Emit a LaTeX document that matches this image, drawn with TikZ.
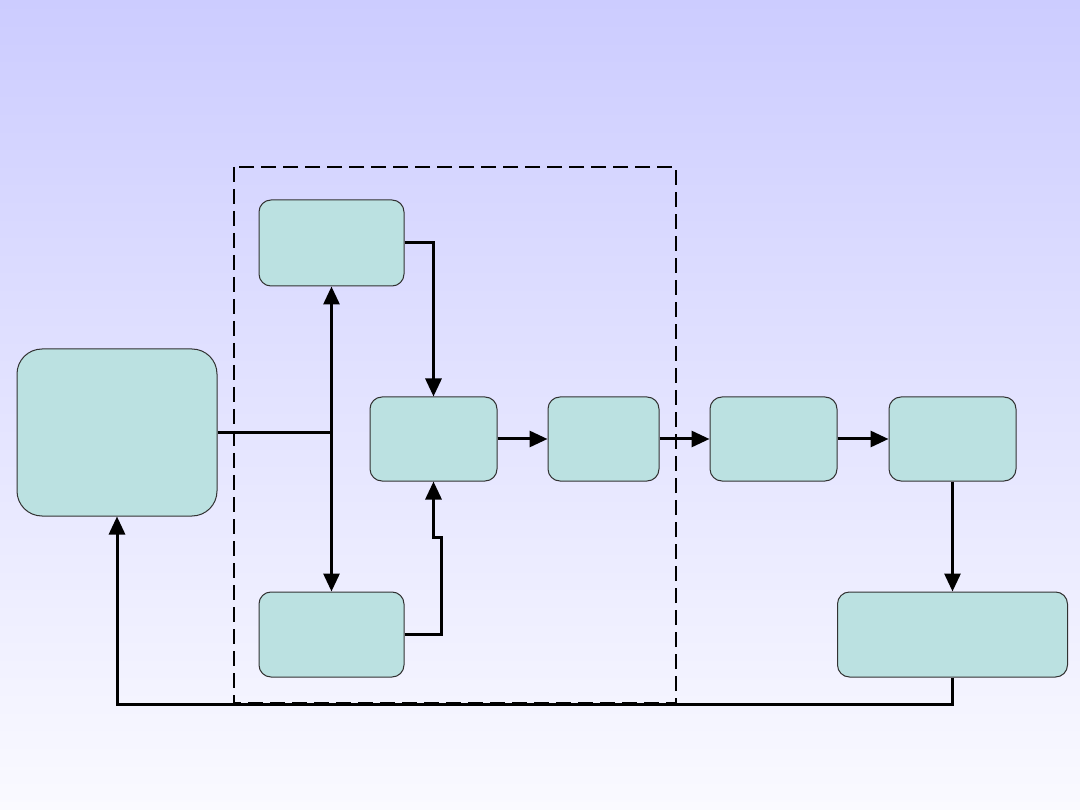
\documentclass[tikz,border=0pt]{standalone}
\usetikzlibrary{arrows.meta}
\definecolor{boxfill}{RGB}{187,225,225}
\definecolor{boxline}{RGB}{50,50,50}
\definecolor{bgtop}{RGB}{204,204,255}
\definecolor{bgbot}{RGB}{250,250,255}
\tikzset{
  box/.style={draw=boxline, line width=1pt, fill=boxfill, rounded corners=12pt, inner sep=0pt},
  conn/.style={line width=3pt, black},
  arr/.style={conn, -{Triangle[length=18pt,width=16pt]}},
  frame/.style={line width=2pt, dash pattern=on 15pt off 7pt}
}
\begin{document}
\begin{tikzpicture}[x=1pt,y=-1pt]
\useasboundingbox (0,0) rectangle (1080,810);
\shade[top color=bgtop, bottom color=bgbot] (0,0) rectangle (1080,810);

\draw[frame] (234,167) rectangle (676,703);

\node[box, rounded corners=25pt, minimum width=200pt, minimum height=167pt] (L) at (117,432.5) {};
\node[box, minimum width=145pt, minimum height=86pt] (T) at (331.5,243) {};
\node[box, minimum width=127pt, minimum height=84pt] (M) at (433.5,439) {};
\node[box, minimum width=111pt, minimum height=84pt] (N) at (603.5,439) {};
\node[box, minimum width=127pt, minimum height=84pt] (R1) at (773.5,439) {};
\node[box, minimum width=127pt, minimum height=84pt] (R2) at (952.5,439) {};
\node[box, minimum width=145pt, minimum height=85pt] (B) at (331.5,634.5) {};
\node[box, minimum width=230pt, minimum height=85pt] (BR) at (952.5,634.5) {};

\coordinate (j) at (T.south |- L.east);
\draw[conn] (L.east) -- (j);
\draw[arr] (j) -- (T.south);
\draw[arr] (j) -- (B.north);
\draw[arr] (T.east) -| (M.north);
\coordinate (b1) at (441,634.5);
\coordinate (b2) at (441,537);
\draw[arr] (B.east) -- (b1) -- (b2) -- (b2 -| M.south) -- (M.south);
\draw[arr] (M.east) -- (N.west);
\draw[arr] (N.east) -- (R1.west);
\draw[arr] (R1.east) -- (R2.west);
\draw[arr] (R2.south) -- (BR.north);
\coordinate (f) at (952.5,704);
\draw[arr] (BR.south) -- (f) -| (L.south);
\end{tikzpicture}
\end{document}
